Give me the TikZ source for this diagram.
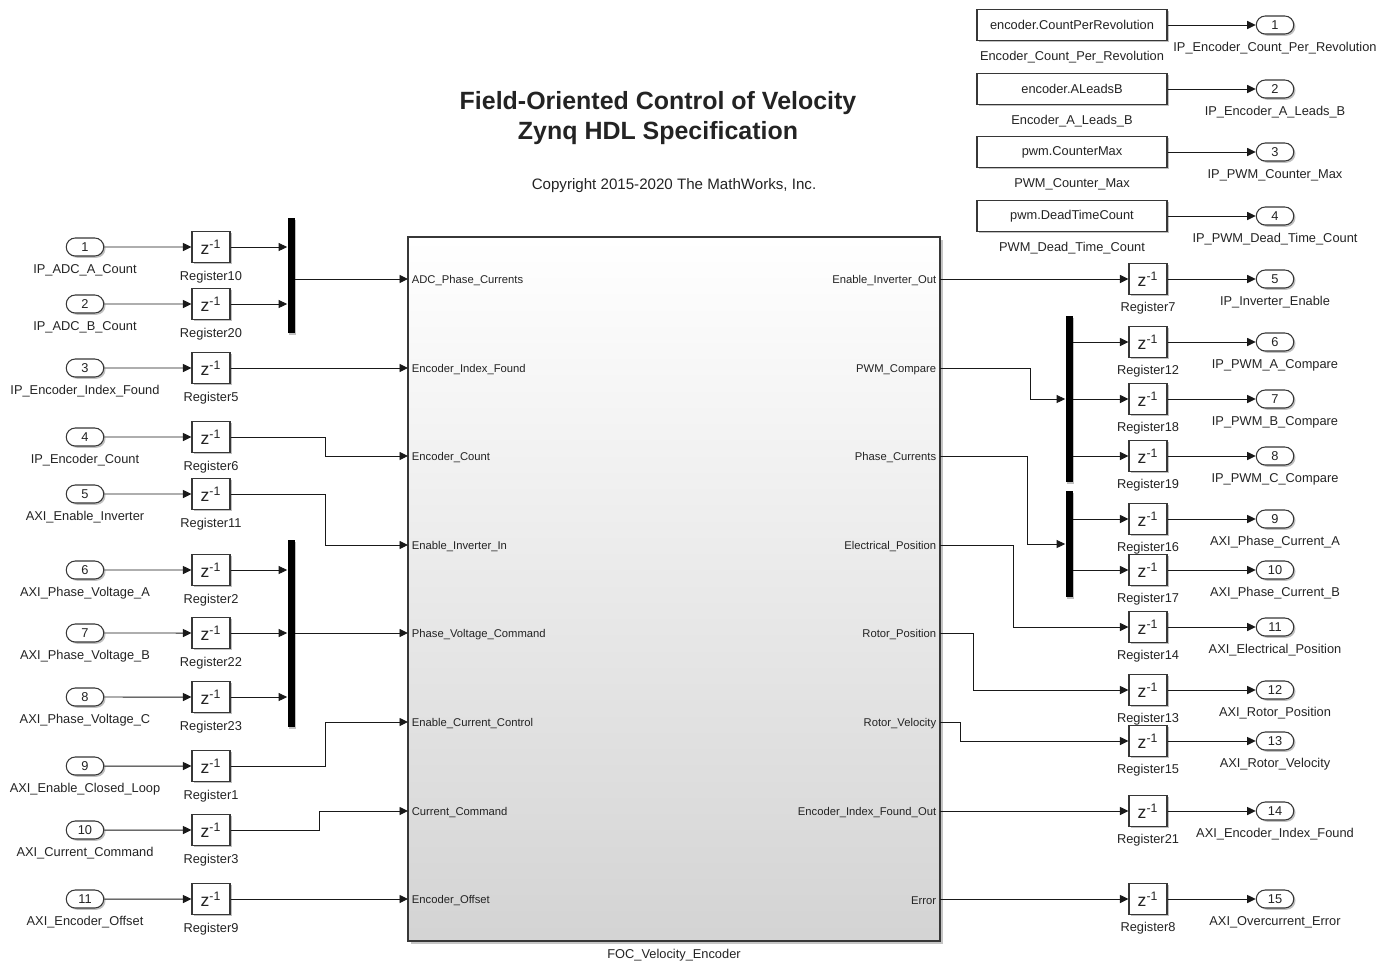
\documentclass[tikz,border=0pt]{standalone}
\usepackage{fontspec}
\setmainfont{Liberation Sans}
\usetikzlibrary{arrows.meta,positioning,shapes.misc,shadows,calc}
\definecolor{wire}{RGB}{25,25,25}
\definecolor{edge}{RGB}{55,55,55}
\definecolor{shadowgray}{RGB}{150,150,150}
\definecolor{txt}{RGB}{35,35,35}
\tikzset{
  >={Triangle[length=1.7mm,width=1.6mm]},
  sig/.style={->,draw=wire,line width=0.55pt},
  lbl/.style={font=\fontsize{7.3}{8}\selectfont,text=txt,inner sep=0pt,yshift=-0.4mm},
  plbl/.style={font=\fontsize{6.4}{7}\selectfont,text=txt,inner ysep=1pt,inner xsep=2pt},
  blockshadow/.style={drop shadow={shadow xshift=0.35mm,shadow yshift=-0.35mm,fill=shadowgray,opacity=0.6}},
  port/.style={rounded rectangle,draw=edge,fill=white,line width=0.6pt,
    minimum width=7.5mm,minimum height=3.6mm,inner sep=0pt,
    font=\fontsize{7.3}{8}\selectfont,text=txt,blockshadow},
  reg/.style={draw=edge,fill=white,line width=0.6pt,minimum width=7.6mm,
    minimum height=6.2mm,inner sep=0pt,font=\fontsize{10}{10}\selectfont,text=txt,blockshadow},
  cst/.style={draw=edge,fill=white,line width=0.6pt,minimum width=38mm,
    minimum height=6.2mm,inner sep=0pt,font=\fontsize{7.3}{8}\selectfont,text=txt,blockshadow},
  bar/.style={fill=black,minimum width=1.4mm,inner sep=0pt,blockshadow},
  focblock/.style={draw=edge,line width=0.7pt,top color=white,middle color=black!4,
    bottom color=black!17,inner sep=0pt,
    drop shadow={shadow xshift=0.6mm,shadow yshift=-0.6mm,fill=shadowgray,opacity=0.55}},
}

\begin{document}
\begin{tikzpicture}[x=0.2mm,y=-0.2mm]
  \useasboundingbox (0,0) rectangle (1385,962);

  % title
  \node[font=\bfseries\fontsize{14.2}{17}\selectfont,align=center,text=txt] (title) at (658,118)
    {Field-Oriented Control of Velocity\\Zynq HDL Specification};
  \node[font=\fontsize{8.6}{10}\selectfont,text=txt] (copy) at (674,186) {Copyright 2015-2020 The MathWorks, Inc.};

  % subsystem
  \node[focblock,minimum width=106.4mm,minimum height=140.8mm] (foc) at (674,589) {};
  \node[lbl] (focl) at (674,953) {FOC\_Velocity\_Encoder};
  \foreach \k/\y/\nm in {a/279/ADC\_Phase\_Currents,b/368/Encoder\_Index\_Found,
      c/456/Encoder\_Count,d/545/Enable\_Inverter\_In,e/633/Phase\_Voltage\_Command,
      f/722/Enable\_Current\_Control,g/811/Current\_Command,h/899/Encoder\_Offset}{
    \coordinate (pi\k) at (408,\y);
    \node[plbl,anchor=west] (pil\k) at (408,\y+2) {\nm};
  }
  \foreach \k/\y/\nm in {a/279/Enable\_Inverter\_Out,b/368/PWM\_Compare,
      c/456/Phase\_Currents,d/545/Electrical\_Position,e/633/Rotor\_Position,
      f/722/Rotor\_Velocity,g/811/Encoder\_Index\_Found\_Out,h/899/Error}{
    \coordinate (po\k) at (940,\y);
    \node[plbl,anchor=east] (pol\k) at (940,\y+2) {\nm};
  }

  % inputs
  \foreach \n/\y/\nm/\rg in {1/247/IP\_ADC\_A\_Count/Register10,2/304/IP\_ADC\_B\_Count/Register20,
      3/368/IP\_Encoder\_Index\_Found/Register5,4/437/IP\_Encoder\_Count/Register6,
      5/494/AXI\_Enable\_Inverter/Register11,6/570/AXI\_Phase\_Voltage\_A/Register2,
      7/633/AXI\_Phase\_Voltage\_B/Register22,8/697/AXI\_Phase\_Voltage\_C/Register23,
      9/766/AXI\_Enable\_Closed\_Loop/Register1,10/830/AXI\_Current\_Command/Register3,
      11/899/AXI\_Encoder\_Offset/Register9}{
    \node[port] (in\n) at (85,\y) {\n};
    \node[lbl] (inl\n) at (85,\y+21) {\nm};
    \node[reg] (rg\n) at (211,\y) {z\textsuperscript{-1}};
    \node[lbl] (rgl\n) at (211,\y+28) {\rg};
    \draw[sig] (in\n) -- (rg\n);
  }

  \node[bar,minimum height=23mm] (mux1) at (291,275.5) {};
  \node[bar,minimum height=37.4mm] (mux2) at (291,633.5) {};
  \foreach \n in {1,2} \draw[sig] (rg\n) -- (rg\n -| mux1.west);
  \foreach \n in {6,7,8} \draw[sig] (rg\n) -- (rg\n -| mux2.west);
  \draw[sig] (mux1.east |- pia) -- (pia);
  \draw[sig] (mux2.east |- pie) -- (pie);
  \draw[sig] (rg3) -- (pib);
  \draw[sig] (rg4.east) -- ++(95,0) |- (pic);
  \draw[sig] (rg5.east) -- ++(95,0) |- (pid);
  \draw[sig] (rg9.east) -- ++(95,0) |- (pif);
  \draw[sig] (rg10.east) -- ++(89,0) |- (pig);
  \draw[sig] (rg11) -- (pih);

  % parameters
  \foreach \n/\y/\val/\cn/\nm in {1/25/encoder.CountPerRevolution/Encoder\_Count\_Per\_Revolution/IP\_Encoder\_Count\_Per\_Revolution,
      2/89/encoder.ALeadsB/Encoder\_A\_Leads\_B/IP\_Encoder\_A\_Leads\_B,
      3/152/pwm.CounterMax/PWM\_Counter\_Max/IP\_PWM\_Counter\_Max,
      4/216/pwm.DeadTimeCount/PWM\_Dead\_Time\_Count/IP\_PWM\_Dead\_Time\_Count}{
    \node[cst] (cst\n) at (1072,\y) {\val};
    \node[lbl] (cstl\n) at (1072,\y+30) {\cn};
    \node[port] (top\n) at (1275,\y) {\n};
    \node[lbl] (topl\n) at (1275,\y+21) {\nm};
    \draw[sig] (cst\n) -- (top\n);
  }

  % outputs
  \foreach \n/\y/\nm/\rg in {5/279/IP\_Inverter\_Enable/Register7,6/342/IP\_PWM\_A\_Compare/Register12,
      7/399/IP\_PWM\_B\_Compare/Register18,8/456/IP\_PWM\_C\_Compare/Register19,
      9/519/AXI\_Phase\_Current\_A/Register16,10/570/AXI\_Phase\_Current\_B/Register17,
      11/627/AXI\_Electrical\_Position/Register14,12/690/AXI\_Rotor\_Position/Register13,
      13/741/AXI\_Rotor\_Velocity/Register15,14/811/AXI\_Encoder\_Index\_Found/Register21,
      15/899/AXI\_Overcurrent\_Error/Register8}{
    \node[reg] (rr\n) at (1148,\y) {z\textsuperscript{-1}};
    \node[lbl] (rrl\n) at (1148,\y+27) {\rg};
    \node[port] (out\n) at (1275,\y) {\n};
    \node[lbl] (outl\n) at (1275,\y+21) {\nm};
    \draw[sig] (rr\n) -- (out\n);
  }

  \node[bar,minimum height=33.2mm] (dmx1) at (1069,399) {};
  \node[bar,minimum height=21.2mm] (dmx2) at (1069,544) {};
  \draw[sig] (poa) -- (rr5);
  \draw[sig] (pob) -- ++(90,0) |- (dmx1.west);
  \foreach \n in {6,7,8} \draw[sig] (dmx1.east |- rr\n) -- (rr\n);
  \draw[sig] (poc) -- ++(87,0) |- (dmx2.west);
  \foreach \n in {9,10} \draw[sig] (dmx2.east |- rr\n) -- (rr\n);
  \draw[sig] (pod) -- ++(73,0) |- (rr11);
  \draw[sig] (poe) -- ++(33,0) |- (rr12);
  \draw[sig] (pof) -- ++(20,0) |- (rr13);
  \draw[sig] (pog) -- (rr14);
  \draw[sig] (poh) -- (rr15);
\end{tikzpicture}
\end{document}
